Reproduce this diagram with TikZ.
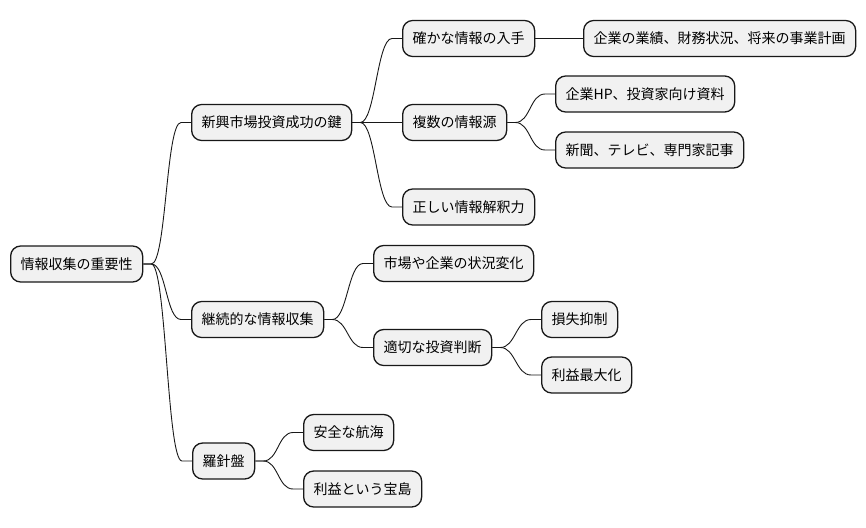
\documentclass[tikz,border=0pt]{standalone}
\usepackage{fontspec}
\setmainfont{Noto Sans CJK JP}
\usetikzlibrary{calc}
\definecolor{boxfill}{HTML}{F1F1F1}
\definecolor{boxline}{HTML}{181818}
\tikzset{
  mmbox/.style={draw=boxline, fill=boxfill, line width=1.3pt, rounded corners=10pt,
    minimum height=36pt, inner xsep=10pt, inner ysep=0pt, text height=12pt, text depth=1.5pt,
    font=\fontsize{14pt}{16pt}\selectfont, anchor=west},
  conn/.style={draw=boxline, line width=0.9pt}
}
\newcommand\conn[2]{\draw[conn] (#1.east) -- ++(8,0) .. controls +(15,0) and +(-15,0) .. ([xshift=-10pt]#2.west) -- (#2.west);}
\begin{document}
\begin{tikzpicture}[x=1pt,y=-1pt]
\useasboundingbox (0,0) rectangle (866,527);
\node[mmbox] (root) at (10,264) {情報収集の重要性};
\node[mmbox] (a) at (191,122.5) {新興市場投資成功の鍵};
\node[mmbox] (a1) at (402,38.5) {確かな情報の入手};
\node[mmbox] (a1a) at (583,38.5) {企業の業績、財務状況、将来の事業計画};
\node[mmbox] (a2) at (402,122.5) {複数の情報源};
\node[mmbox] (a2a) at (555,94) {企業HP、投資家向け資料};
\node[mmbox] (a2b) at (555,150) {新聞、テレビ、専門家記事};
\node[mmbox] (a3) at (402,207) {正しい情報解釈力};
\node[mmbox] (b) at (191,319.5) {継続的な情報収集};
\node[mmbox] (b1) at (373,263.5) {市場や企業の状況変化};
\node[mmbox] (b2) at (373,347.5) {適切な投資判断};
\node[mmbox] (b2a) at (541,319.5) {損失抑制};
\node[mmbox] (b2b) at (541,375) {利益最大化};
\node[mmbox] (c) at (192,461) {羅針盤};
\node[mmbox] (c1) at (303,432.5) {安全な航海};
\node[mmbox] (c2) at (303,489) {利益という宝島};
\conn{root}{a}
\conn{root}{b}
\conn{root}{c}
\conn{a}{a1}
\draw[conn] (a.east) -- (a2.west);
\conn{a}{a3}
\draw[conn] (a1.east) -- (a1a.west);
\conn{a2}{a2a}
\conn{a2}{a2b}
\conn{b}{b1}
\conn{b}{b2}
\conn{b2}{b2a}
\conn{b2}{b2b}
\conn{c}{c1}
\conn{c}{c2}
\end{tikzpicture}
\end{document}
